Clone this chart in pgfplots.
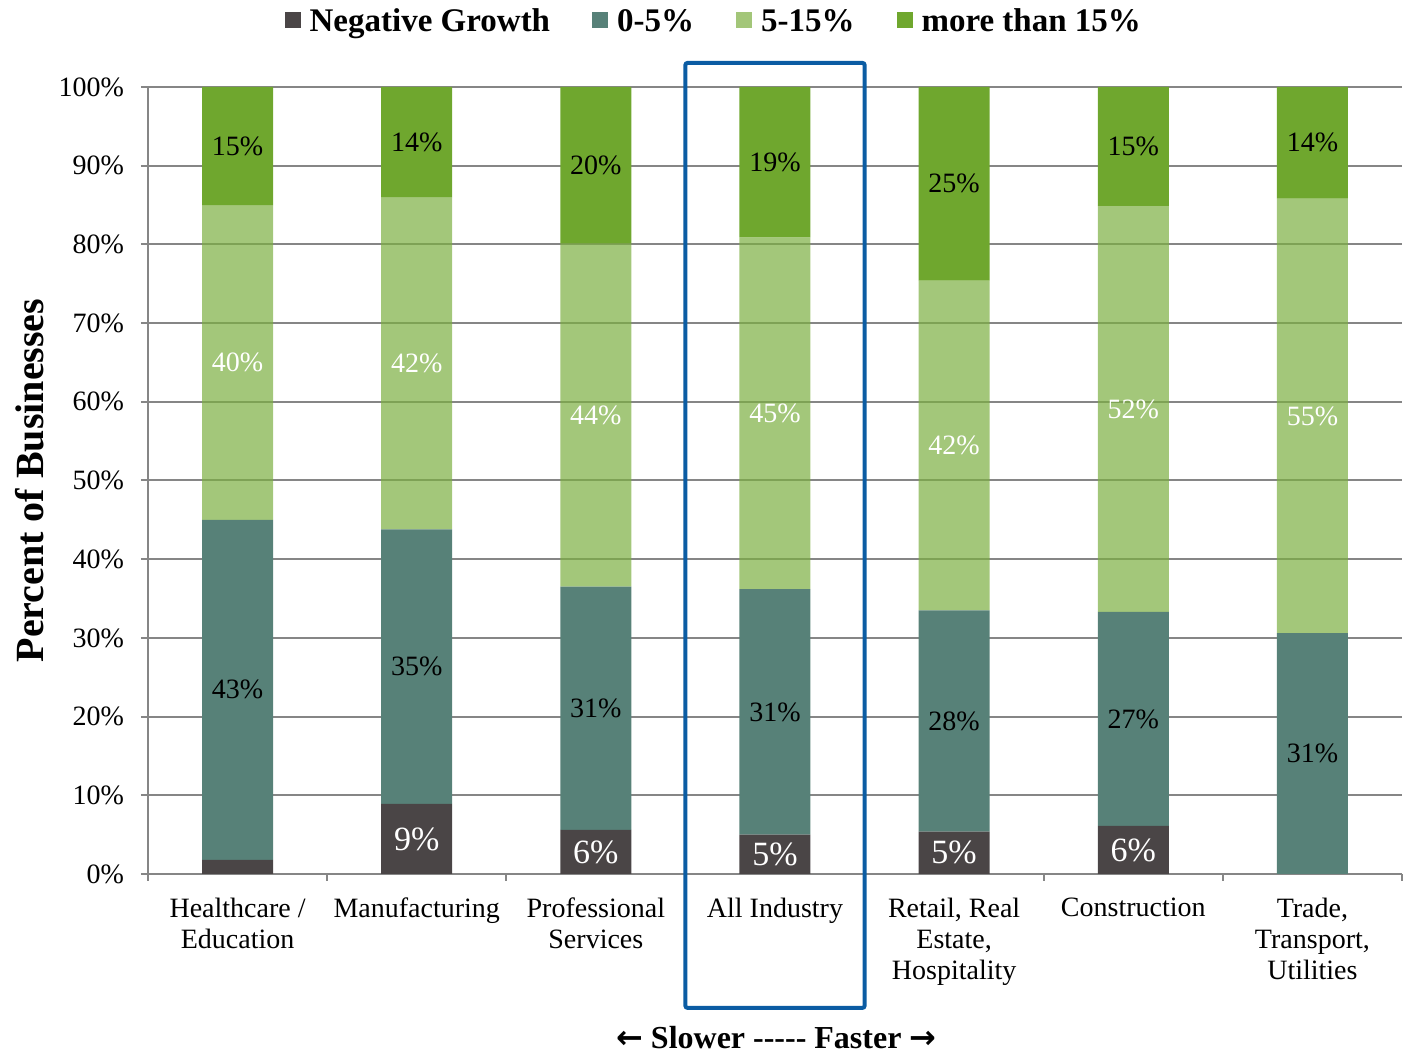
\documentclass[border=0pt]{standalone}
\usepackage{fontspec}
\setmainfont{Liberation Serif}
\newfontfamily\arrowfont{DejaVu Sans}
\usepackage{pgfplots}
\pgfplotsset{compat=1.18}
\usepackage{pgfplotstable}

\definecolor{negc}{RGB}{74,69,70}
\definecolor{lowc}{RGB}{87,129,120}
\definecolor{midc}{RGB}{124,175,65}
\definecolor{highc}{RGB}{111,167,46}
\definecolor{gridc}{RGB}{134,134,134}
\definecolor{boxc}{RGB}{11,92,163}

% share of businesses by revenue growth band, per industry
\pgfplotstableread{
x neg  low  mid  high negl   lowl   midl   highl
0 1.8  43.2 40.0 15.0 {}     43\%   40\%   15\%
1 8.9  34.9 42.2 14.0 9\%    35\%   42\%   14\%
2 5.6  30.9 43.6 19.9 6\%    31\%   44\%   20\%
3 5.0  31.2 44.7 19.1 5\%    31\%   45\%   19\%
4 5.4  28.1 41.9 24.6 5\%    28\%   42\%   25\%
5 6.1  27.2 51.6 15.1 6\%    27\%   52\%   15\%
6 0.0  30.6 55.2 14.2 {}     31\%   55\%   14\%
}\growth

% segment labels, centred in each stacked segment
\pgfplotsset{
  seglabel/.style={
    nodes near coords,
    point meta=explicit symbolic,
    nodes near coords style={anchor=center, text opacity=1,
      font=\fontsize{14}{16}\selectfont},
  },
}

\begin{document}
\begin{tikzpicture}
\useasboundingbox (-74pt,-90pt) rectangle (630.5pt,437pt);
\begin{axis}[
  at={(0,0)}, anchor=south west,
  scale only axis,
  width=627pt, height=393.5pt,
  ybar stacked,
  bar width=35.5pt,
  xmin=-0.5, xmax=6.5,
  ymin=0, ymax=100,
  clip=false,
  axis x line*=bottom,
  axis y line*=left,
  axis line style={draw=gridc, line width=1pt, -},
  tick align=outside,
  major tick length=3.5pt,
  tick style={draw=gridc, line width=1pt},
  xtick={-0.5,0.5,...,6.5},
  x tick label as interval,
  xticklabels={{Healthcare /\\Education},{Manufacturing},{Professional\\Services},{All Industry},{Retail, Real\\Estate,\\Hospitality},{Construction},{Trade,\\Transport,\\Utilities}},
  xticklabel style={font=\fontsize{14}{15.5}\selectfont, align=center, yshift=-5pt},
  ytick={0,10,...,100},
  yticklabel={\pgfmathprintnumber{\tick}\%},
  /pgf/number format/assume math mode=true,
  yticklabel style={font=\fontsize{14}{16}\selectfont, xshift=-5pt},
  ymajorgrids,
  major grid style={draw=gridc, line width=1pt},
  ylabel={Percent of Businesses},
  every axis y label/.style={at={(rel axis cs:-0.0941,0.5)}, rotate=90, anchor=center,
    font=\bfseries\fontsize{20}{22}\selectfont},
  xlabel={{\arrowfont ←} Slower -{}-{}-{}-{}- Faster {\arrowfont →}},
  every axis x label/.style={at={(rel axis cs:0.501,-0.208)}, anchor=center,
    font=\bfseries\fontsize{16}{18}\selectfont},
  legend columns=-1,
  legend style={at={(rel axis cs:0.452,1.083)}, anchor=center, draw=none,
    font=\bfseries\fontsize{16.5}{18}\selectfont,
    /tikz/every odd column/.append style={column sep=2.5pt},
    /tikz/every even column/.append style={column sep=19pt}},
  legend image code/.code={\fill[#1] (0pt,-3pt) rectangle (8pt,5pt);},
]
\addplot[fill=negc, draw=none, seglabel,
  nodes near coords style={text=white, font=\fontsize{17}{19}\selectfont}]
  table[x=x, y=neg, meta=negl]{\growth};
\addplot[fill=lowc, draw=none, seglabel,
  nodes near coords style={text=black}]
  table[x=x, y=low, meta=lowl]{\growth};
\addplot[fill=midc, fill opacity=0.7, draw=none, seglabel,
  nodes near coords style={text=white}]
  table[x=x, y=mid, meta=midl]{\growth};
\addplot[fill=highc, draw=none, seglabel,
  nodes near coords style={text=black}]
  table[x=x, y=high, meta=highl]{\growth};
\legend{Negative Growth, 0-5\%, 5-15\%, more than 15\%}
\draw[boxc, line width=2pt, rounded corners=1pt]
  (axis cs:2.5,-17.0) rectangle (axis cs:3.5,103.05);
\end{axis}
\end{tikzpicture}
\end{document}
